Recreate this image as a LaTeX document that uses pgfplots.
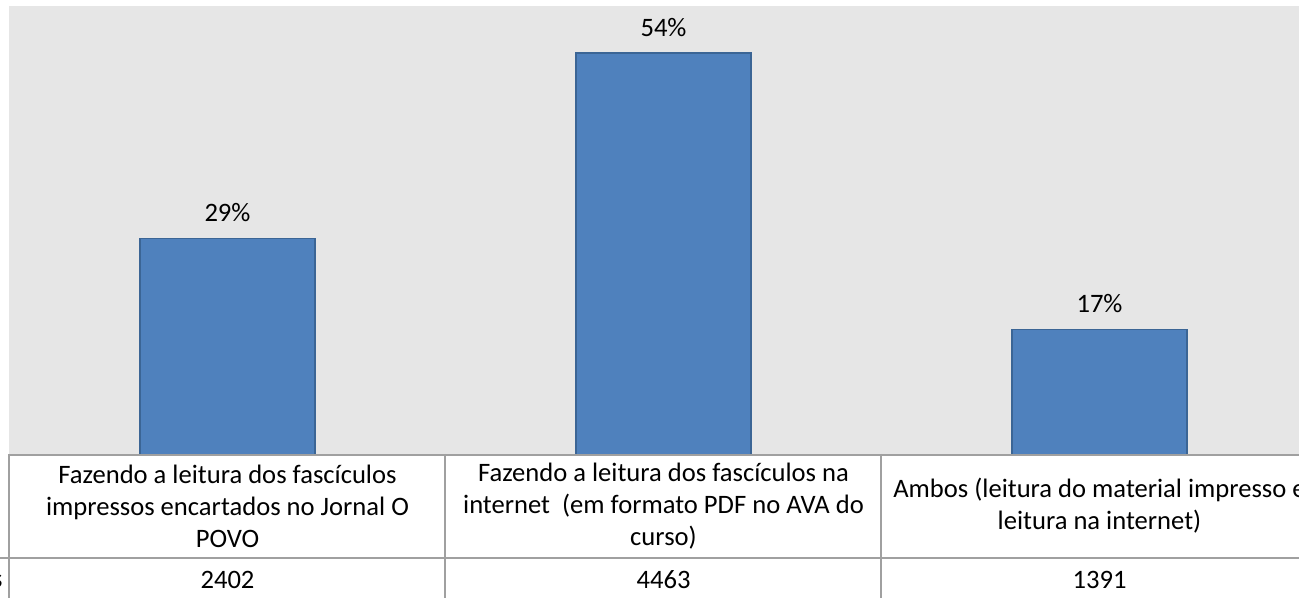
\documentclass[border=0pt]{standalone}
\usepackage{fontspec}
\setmainfont{Carlito}
\usepackage{pgfplots}
\pgfplotsset{compat=1.18}
\usepackage{pgfplotstable}

\definecolor{areagray}{HTML}{E6E6E6}
\definecolor{barblue}{HTML}{4F81BD}
\definecolor{barline}{HTML}{3B6595}
\definecolor{tablegray}{HTML}{A0A0A0}

% percentage of answers and absolute count per option
\pgfplotstableread{
i pct n
0 29.09 2402
1 54.06 4463
2 16.85 1391
}\leitura

\begin{document}
\fontsize{13.3}{16}\selectfont
\begin{tikzpicture}
\begin{axis}[
    at={(0,0)}, anchor=south west,
    scale only axis,
    width=654pt, height=224.5pt,
    xmin=-0.5, xmax=2.5, ymin=0, ymax=60.4,
    axis background/.style={fill=areagray},
    axis line style={draw=none},
    ytick=\empty,
    xtick={0,1,2},
    major tick length=0pt,
    xticklabels={
        {Fazendo a leitura dos fascículos\\impressos encartados no Jornal O\\POVO},
        {Fazendo a leitura dos fascículos na\\internet~ (em formato PDF no AVA do\\curso)},
        {Ambos (leitura do material impresso e\\leitura na internet)}},
    xticklabel style={anchor=center, yshift=-25.5pt, align=center,
        font=\fontsize{13.3}{16}\selectfont},
    clip=false,
    /pgf/number format/assume math mode=true,
]
\addplot[ybar, bar width=87.5pt, bar shift=0pt,
    fill=barblue, draw=barline, line width=0.75pt,
    nodes near coords={\pgfmathprintnumber[fixed,precision=0]{\pgfplotspointmeta}\%},
    every node near coord/.append style={anchor=center, yshift=13pt, text=black}]
    table[x=i, y=pct] {\leitura};
\addplot[draw=none, mark=none,
    point meta=\thisrow{n},
    nodes near coords={\pgfmathprintnumber[int detect,1000 sep={}]{\pgfplotspointmeta}},
    every node near coord/.append style={anchor=center, yshift=-62.5pt, text=black}]
    table[x=i, y expr=0] {\leitura};
\end{axis}

% data table grid under the plot area
\draw[tablegray, line width=1pt] (-0.25pt,0pt) -- (660pt,0pt);
\draw[tablegray, line width=1pt] (-10pt,-51.5pt) -- (660pt,-51.5pt);
\foreach \xx in {-0.25, 217.75, 435.75, 653.75}
    \draw[tablegray, line width=1pt] (\xx pt,0.5pt) -- (\xx pt,-90pt);
\node[anchor=base east, inner sep=0pt] at (-3.25pt,-66.5pt) {Respostas};

\pgfresetboundingbox
\path[use as bounding box] (-4.75pt,-71.5pt) rectangle (644.75pt,227.5pt);
\end{tikzpicture}
\end{document}
